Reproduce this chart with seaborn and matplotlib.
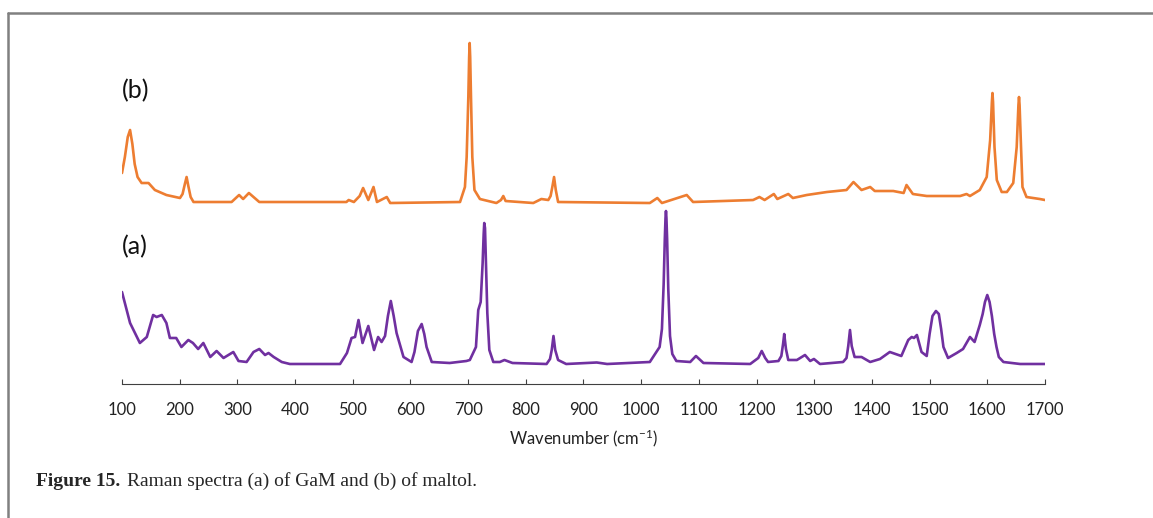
import matplotlib
matplotlib.use("Agg")
import matplotlib.pyplot as plt
from matplotlib.lines import Line2D
import numpy as np
import pandas as pd
import seaborn as sns

# Raman spectrum (a) GaM (arbitrary units)
wn_a = [100, 114, 131, 143, 154, 160, 169, 177, 183, 194, 203, 215, 223, 232, 241,
        253, 264, 276, 293, 302, 316, 328, 338, 348, 354, 363, 377, 391, 478, 490,
        498, 504, 510, 517, 527, 537, 544, 550, 556, 561, 566, 571, 576, 588, 602,
        607, 613, 619.5, 624, 628, 637, 668, 697, 703, 713.6, 717.6, 721.8, 725.2, 727,
        728, 729.3, 731, 733.3, 736.8, 743.7, 755, 763, 777, 836, 842, 845, 848, 851,
        856, 870, 923, 941, 1015, 1032, 1036, 1039, 1041, 1042.2, 1043, 1043.8, 1045,
        1047, 1050, 1054, 1061, 1085, 1095, 1108, 1189, 1203, 1209, 1215, 1220, 1238,
        1243, 1246, 1248, 1251, 1255, 1270, 1284, 1293, 1299.5, 1310, 1350, 1356, 1359,
        1362, 1365, 1370, 1382, 1397, 1414, 1431, 1451, 1463, 1469, 1473, 1478, 1486,
        1495, 1500, 1505, 1511, 1516, 1520, 1524, 1532, 1547, 1558, 1570, 1578, 1587,
        1592, 1596, 1600, 1604, 1608, 1612, 1616, 1620, 1628, 1657, 1700]
int_a = [72, 41, 21, 27, 49, 47, 49, 41, 26, 26, 17, 24, 21, 15, 21,
         7, 13, 6, 12, 3, 2, 12, 15, 9, 11, 7, 2, 0, 0, 11,
         26, 27, 44, 21, 38, 14, 27, 22, 28, 48, 63, 48, 31, 7, 2,
         12, 33, 40, 30, 17, 2, 1, 3, 4, 17, 54, 62, 101, 130,
         141, 136, 101, 51, 14, 2, 2, 4, 1, 0, 5, 14, 28, 14,
         4, 0, 1.5, 0, 2, 17, 35, 80, 125, 146, 153, 146, 125,
         75, 28, 10, 3, 2, 8, 1, 0, 6, 13, 6, 2, 3,
         8, 20, 30, 15, 4, 4, 9, 3, 5, 0, 2, 6, 18,
         34, 18, 7, 7, 2, 5, 12, 8, 24, 27, 26, 29, 12,
         8, 30, 48, 53, 50, 35, 17, 6, 11, 15, 27, 22, 39,
         50, 62, 69, 62, 48, 30, 17, 7, 2, 0, 0]

# Raman spectrum (b) maltol
wn_b = [100, 105, 110, 114, 118, 122, 127, 134, 146, 157, 177, 200.5, 205, 209, 212,
        215, 219, 224, 290, 303, 310, 320, 338, 489, 493, 502, 512, 518, 527, 536,
        542, 559, 565, 686, 694.5, 697.5, 700.4, 701.8, 702.7, 703.6, 705, 707.3, 711,
        720.5, 749, 757, 761, 765, 813, 827, 839, 843, 846, 849, 852, 856, 1015, 1028,
        1036, 1079, 1090, 1194, 1205, 1214, 1230, 1236, 1255, 1263, 1287, 1322, 1356,
        1368, 1382, 1397, 1405, 1437, 1455, 1460, 1471, 1495, 1553, 1564, 1570, 1587,
        1599, 1605, 1608, 1609, 1610, 1612.5, 1616.5, 1625, 1634, 1645, 1651, 1654,
        1655, 1656, 1658.5, 1661, 1668, 1691, 1700]
int_b = [29, 45, 65, 72, 58, 38, 25, 19, 19, 12, 7, 4, 8, 18, 25,
         16, 5, 0, 0, 7, 3, 9, 0, 0, 2, 0, 6, 14, 2, 15,
         0, 5, -1, 0, 15, 45, 105, 145, 159, 145, 105, 45, 12,
         3, -1, 2, 6, 1, -1, 3, 2, 6, 15, 25, 12, 0, -1, 4,
         -1, 7, 0, 2, 5, 2, 8, 3, 8, 4, 7, 10, 12,
         20, 12, 15, 11, 11, 9, 17, 8, 6, 6, 8, 6, 12,
         25, 62, 100, 109, 100, 55, 22, 10, 10, 19, 55, 97,
         105, 97, 55, 15, 5, 3, 2]

offset_b = 162
tick_values = list(range(100, 1701, 100))

sns.set_style("white")
plt.rcParams["font.family"] = ["Lato", "DejaVu Sans"]
plt.rcParams["mathtext.default"] = "regular"

fig = plt.figure(figsize=(11.53, 5.18), dpi=100)
ax = fig.add_axes([0.1058, 0.2587, 0.8005, 0.693])

df_a = pd.DataFrame({"wavenumber": wn_a, "intensity": int_a})
df_b = pd.DataFrame({"wavenumber": wn_b, "intensity": np.array(int_b) + offset_b})

sns.lineplot(data=df_a, x="wavenumber", y="intensity", ax=ax, color="#7030A0",
             linewidth=1.9, solid_joinstyle="round", solid_capstyle="round")
sns.lineplot(data=df_b, x="wavenumber", y="intensity", ax=ax, color="#ED7D31",
             linewidth=1.9, solid_joinstyle="round", solid_capstyle="round")

ax.set_xlim(100, 1700)
ax.set_ylim(-20, 339)
ax.set_xticks(tick_values)
ax.set_yticks([])
ax.tick_params(axis="x", bottom=True, direction="in", length=3.6, width=0.8, color="#404040",
               pad=13, labelsize=12, labelcolor="#222222")
for side in ["top", "left", "right"]:
    ax.spines[side].set_visible(False)
ax.spines["bottom"].set_color("#404040")
ax.spines["bottom"].set_linewidth(0.8)
ax.set_xlabel("Wavenumber (cm$^{-1}$)", fontsize=12, color="#222222", labelpad=7)
ax.set_ylabel("")

ax.text(0.0, 0.816, "(b)", transform=ax.transAxes, fontsize=18, color="#111111", va="center")
ax.text(0.0, 0.382, "(a)", transform=ax.transAxes, fontsize=18, color="#111111", va="center")

# figure frame (open on right and bottom) and caption
fig.add_artist(Line2D([8 / 1153, 1.0], [1 - 13 / 518, 1 - 13 / 518], color="#808080", linewidth=1.8))
fig.add_artist(Line2D([8 / 1153, 8 / 1153], [0, 1 - 13 / 518], color="#808080", linewidth=1.8))
fig.text(36 / 1153, 1 - 481 / 518, "Figure 15.", family="Liberation Serif", weight="bold",
         fontsize=14, va="center")
fig.text(127 / 1153, 1 - 481 / 518, "Raman spectra (a) of GaM and (b) of maltol.",
         family="Liberation Serif", fontsize=14, va="center")

fig.savefig("out.png", dpi=100)
